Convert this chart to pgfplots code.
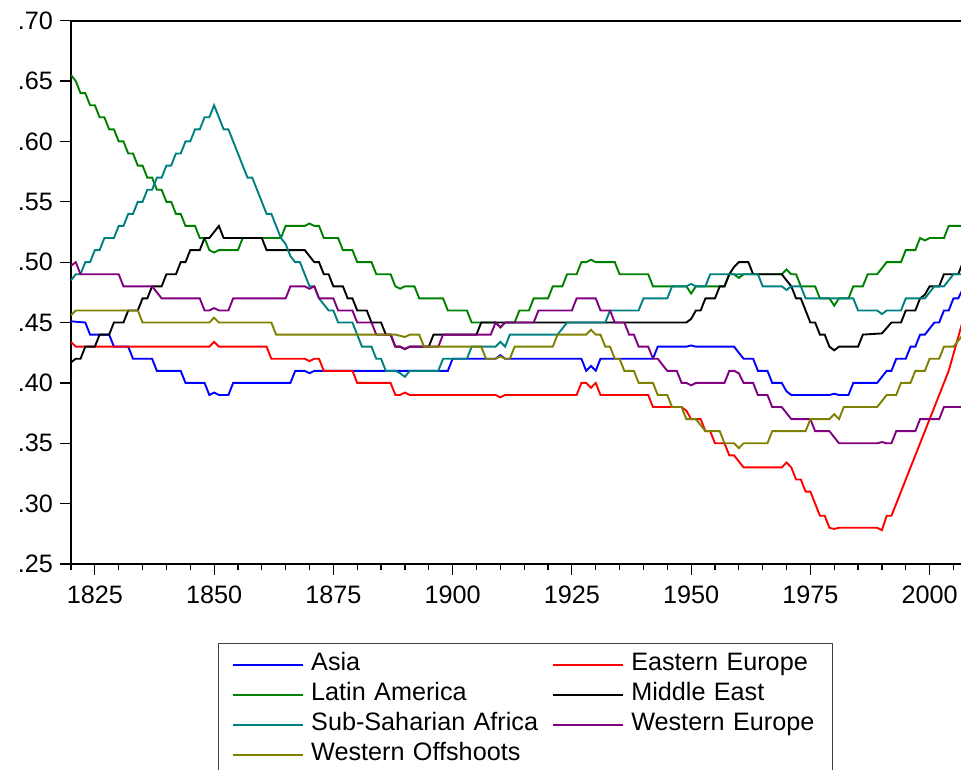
\documentclass[border=0pt]{standalone}
\usepackage{fontspec}
\setmainfont{Liberation Sans}
\usepackage{pgfplots}
\pgfplotsset{compat=1.18}
\definecolor{cAsia}{RGB}{0,0,255}
\definecolor{cEE}{RGB}{255,0,0}
\definecolor{cLA}{RGB}{0,128,0}
\definecolor{cME}{RGB}{0,0,0}
\definecolor{cSSA}{RGB}{0,128,128}
\definecolor{cWE}{RGB}{128,0,128}
\definecolor{cWO}{RGB}{128,128,0}
\begin{document}
\begin{tikzpicture}
\begin{axis}[
  scale only axis, width=446pt, height=271.65pt,
  xmin=1820, xmax=2007, ymin=0.25, ymax=0.70,
  axis line style={line width=1pt},
  tick align=outside, xtick pos=bottom, ytick pos=left,
  xtick={1825,1850,1875,1900,1925,1950,1975,2000},
  xticklabels={1825,1850,1875,1900,1925,1950,1975,2000},
  minor xtick={1820,1825,...,2005},
  ytick={0.25,0.3,0.35,0.4,0.45,0.5,0.55,0.6,0.65,0.7},
  yticklabels={.25,.30,.35,.40,.45,.50,.55,.60,.65,.70},
  major tick length=5.5pt, minor tick length=3pt,
  every tick/.style={black, line width=0.6pt},
  ticklabel style={font=\fontsize{12.6}{14}\selectfont},
  xticklabel style={yshift=-2pt},
  legend columns=2,
  legend cell align=left,
  legend image code/.code={\draw[#1] (0pt,0pt) -- (35pt,0pt);},
  legend style={draw=black!75, line width=0.7pt,
    at={(axis description cs:0.1648,-0.1454)}, anchor=north west,
    inner xsep=6.5pt, inner ysep=4.5pt,
    font=\fontsize{12.6}{14}\selectfont,
    row sep=3pt, column sep=3.8pt,
    nodes={inner sep=0pt, text height=9pt, text depth=3pt},
    /tikz/column 2/.style={text width=116.5pt},
    /tikz/column 4/.style={text width=94pt}},
  every axis plot/.append style={line width=0.95pt},
]
% Asia
\addplot[cAsia] coordinates {(1820,.451)(1823,.45)(1824,.44)(1828,.44)(1829,.43)(1832,.43)(1833,.42)(1837,.42)(1838,.41)(1843,.41)(1844,.40)(1848,.40)(1849,.39)(1850,.392)(1851,.39)(1853,.39)(1854,.40)(1866,.40)(1867,.41)(1869,.41)(1870,.408)(1871,.41)(1899,.41)(1900,.42)(1909,.42)(1910,.423)(1911,.42)(1927,.42)(1928,.41)(1929,.414)(1930,.41)(1931,.42)(1942,.42)(1943,.43)(1949,.43)(1950,.431)(1951,.43)(1959,.43)(1960,.425)(1961,.42)(1963,.42)(1964,.41)(1966,.41)(1967,.40)(1969,.40)(1970,.393)(1971,.39)(1979,.39)(1980,.391)(1981,.39)(1983,.39)(1984,.40)(1989,.40)(1991,.41)(1992,.41)(1993,.42)(1995,.42)(1996,.43)(1997,.43)(1998,.44)(1999,.44)(2001,.45)(2002,.45)(2003,.46)(2004,.46)(2005,.47)(2006,.47)(2007,.478)};
\addlegendentry{Asia}
% Eastern Europe
\addplot[cEE] coordinates {(1820,.434)(1821,.43)(1849,.43)(1850,.434)(1851,.43)(1861,.43)(1862,.42)(1869,.42)(1870,.418)(1871,.42)(1872,.42)(1873,.41)(1879,.41)(1880,.40)(1887,.40)(1888,.39)(1889,.39)(1890,.392)(1891,.39)(1909,.39)(1910,.388)(1911,.39)(1926,.39)(1927,.40)(1928,.40)(1929,.396)(1930,.40)(1931,.39)(1941,.39)(1942,.38)(1948,.38)(1949,.377)(1950,.37)(1952,.37)(1953,.36)(1954,.36)(1955,.35)(1957,.35)(1958,.34)(1959,.34)(1961,.33)(1969,.33)(1970,.334)(1971,.33)(1972,.32)(1973,.32)(1974,.31)(1975,.31)(1977,.29)(1978,.29)(1979,.28)(1980,.279)(1981,.28)(1989,.28)(1990,.278)(1991,.29)(1992,.29)(2004,.41)(2007,.452)};
\addlegendentry{Eastern Europe}
% Latin America
\addplot[cLA] coordinates {(1820,.655)(1821,.65)(1822,.64)(1823,.64)(1824,.63)(1825,.63)(1826,.62)(1827,.62)(1828,.61)(1829,.61)(1830,.60)(1831,.60)(1832,.59)(1833,.59)(1834,.58)(1835,.58)(1836,.57)(1837,.57)(1838,.56)(1839,.56)(1840,.55)(1841,.55)(1842,.54)(1843,.54)(1844,.53)(1846,.53)(1847,.52)(1848,.52)(1849,.51)(1850,.508)(1851,.51)(1855,.51)(1856,.52)(1864,.52)(1865,.53)(1869,.53)(1870,.532)(1871,.53)(1872,.53)(1873,.52)(1876,.52)(1877,.51)(1879,.51)(1880,.50)(1883,.50)(1884,.49)(1887,.49)(1888,.48)(1889,.478)(1890,.48)(1892,.48)(1893,.47)(1898,.47)(1899,.46)(1903,.46)(1904,.45)(1909,.45)(1910,.446)(1911,.45)(1913,.45)(1914,.46)(1916,.46)(1917,.47)(1920,.47)(1921,.48)(1923,.48)(1924,.49)(1926,.49)(1927,.50)(1928,.50)(1929,.502)(1930,.50)(1934,.50)(1935,.49)(1941,.49)(1942,.48)(1949,.48)(1950,.474)(1951,.48)(1957,.48)(1958,.49)(1959,.49)(1960,.487)(1961,.49)(1969,.49)(1970,.494)(1971,.49)(1972,.49)(1973,.48)(1976,.48)(1977,.47)(1979,.47)(1980,.464)(1981,.47)(1983,.47)(1984,.48)(1986,.48)(1987,.49)(1989,.49)(1991,.50)(1994,.50)(1995,.51)(1997,.51)(1998,.52)(1999,.518)(2000,.52)(2003,.52)(2004,.53)(2007,.53)};
\addlegendentry{Latin America}
% Middle East
\addplot[cME] coordinates {(1820,.417)(1821,.42)(1822,.42)(1823,.43)(1825,.43)(1826,.44)(1828,.44)(1829,.45)(1831,.45)(1832,.46)(1834,.46)(1835,.47)(1836,.47)(1837,.48)(1839,.48)(1840,.49)(1842,.49)(1843,.50)(1844,.50)(1845,.51)(1847,.51)(1848,.52)(1849,.52)(1850,.525)(1851,.53)(1852,.52)(1860,.52)(1861,.51)(1869,.51)(1870,.505)(1871,.50)(1872,.50)(1873,.49)(1874,.49)(1875,.48)(1877,.48)(1878,.47)(1879,.47)(1880,.46)(1882,.46)(1883,.45)(1885,.45)(1886,.44)(1887,.44)(1888,.43)(1889,.43)(1890,.428)(1891,.43)(1895,.43)(1896,.44)(1905,.44)(1906,.45)(1949,.45)(1950,.453)(1951,.46)(1952,.46)(1953,.47)(1955,.47)(1956,.48)(1957,.48)(1958,.49)(1959,.496)(1960,.50)(1962,.50)(1963,.49)(1969,.49)(1970,.485)(1971,.48)(1972,.47)(1973,.47)(1974,.46)(1975,.45)(1976,.45)(1977,.44)(1978,.44)(1979,.43)(1980,.427)(1981,.43)(1985,.43)(1986,.44)(1990,.441)(1992,.45)(1994,.45)(1995,.46)(1997,.46)(1998,.47)(1999,.473)(2000,.48)(2002,.48)(2003,.49)(2006,.49)(2007,.50)};
\addlegendentry{Middle East}
% Sub-Saharan Africa
\addplot[cSSA] coordinates {(1820,.485)(1821,.49)(1822,.49)(1823,.50)(1824,.50)(1825,.51)(1826,.51)(1827,.52)(1829,.52)(1830,.53)(1831,.53)(1832,.54)(1833,.54)(1834,.55)(1835,.55)(1836,.56)(1837,.56)(1838,.57)(1839,.57)(1840,.58)(1841,.58)(1842,.59)(1843,.59)(1844,.60)(1845,.60)(1846,.61)(1847,.61)(1848,.62)(1849,.62)(1850,.63)(1852,.61)(1853,.61)(1857,.57)(1858,.57)(1861,.54)(1862,.54)(1864,.52)(1865,.515)(1866,.505)(1867,.50)(1868,.50)(1869,.49)(1870,.48)(1871,.48)(1872,.47)(1874,.46)(1875,.46)(1876,.45)(1879,.45)(1880,.44)(1881,.43)(1883,.43)(1884,.42)(1885,.42)(1886,.41)(1888,.41)(1889,.408)(1890,.405)(1891,.41)(1897,.41)(1898,.42)(1903,.42)(1904,.43)(1909,.43)(1910,.434)(1911,.43)(1912,.44)(1922,.44)(1924,.45)(1932,.45)(1933,.46)(1939,.46)(1940,.47)(1945,.47)(1946,.48)(1949,.48)(1950,.482)(1951,.48)(1953,.48)(1954,.49)(1964,.49)(1965,.48)(1969,.48)(1970,.477)(1971,.48)(1973,.48)(1974,.47)(1984,.47)(1985,.46)(1989,.46)(1990,.457)(1991,.46)(1994,.46)(1995,.47)(1999,.47)(2001,.48)(2003,.48)(2005,.49)(2007,.49)};
\addlegendentry{Sub-Saharian Africa}
% Western Europe
\addplot[cWE] coordinates {(1820,.497)(1821,.50)(1822,.49)(1830,.49)(1831,.48)(1837,.48)(1839,.47)(1847,.47)(1848,.46)(1849,.46)(1850,.462)(1851,.46)(1853,.46)(1854,.47)(1865,.47)(1866,.48)(1869,.48)(1870,.478)(1871,.48)(1872,.47)(1875,.47)(1876,.46)(1879,.46)(1880,.45)(1883,.45)(1884,.44)(1887,.44)(1888,.43)(1889,.43)(1890,.428)(1891,.43)(1897,.43)(1898,.44)(1908,.44)(1909,.45)(1910,.446)(1911,.45)(1917,.45)(1918,.46)(1925,.46)(1926,.47)(1930,.47)(1931,.46)(1933,.46)(1934,.45)(1936,.45)(1937,.44)(1938,.44)(1939,.43)(1941,.43)(1942,.42)(1943,.42)(1945,.41)(1947,.41)(1948,.40)(1949,.40)(1950,.398)(1951,.40)(1957,.40)(1958,.41)(1959,.41)(1960,.408)(1961,.40)(1963,.40)(1964,.39)(1966,.39)(1967,.38)(1969,.38)(1971,.37)(1975,.37)(1976,.36)(1979,.36)(1981,.35)(1989,.35)(1990,.351)(1991,.35)(1992,.35)(1993,.36)(1997,.36)(1998,.37)(2002,.37)(2003,.38)(2007,.38)};
\addlegendentry{Western Europe}
% Western Offshoots
\addplot[cWO] coordinates {(1820,.456)(1821,.46)(1834,.46)(1835,.45)(1849,.45)(1850,.454)(1851,.45)(1862,.45)(1863,.44)(1888,.44)(1890,.438)(1891,.44)(1893,.44)(1894,.43)(1906,.43)(1907,.42)(1909,.42)(1910,.422)(1911,.42)(1912,.42)(1913,.43)(1921,.43)(1922,.44)(1928,.44)(1929,.444)(1930,.44)(1931,.44)(1932,.43)(1933,.43)(1934,.42)(1935,.42)(1936,.41)(1938,.41)(1939,.40)(1942,.40)(1943,.39)(1945,.39)(1946,.38)(1948,.38)(1949,.37)(1951,.37)(1953,.36)(1956,.36)(1957,.35)(1959,.35)(1960,.346)(1961,.35)(1966,.35)(1967,.36)(1969,.36)(1974,.36)(1975,.37)(1979,.37)(1980,.374)(1981,.37)(1982,.38)(1989,.38)(1991,.39)(1993,.39)(1994,.40)(1996,.40)(1997,.41)(1999,.41)(2000,.42)(2002,.42)(2003,.43)(2005,.43)(2007,.44)};
\addlegendentry{Western Offshoots}
\end{axis}
\pgfresetboundingbox
\path[use as bounding box] (-35.5pt,-102.5pt) rectangle (445pt,282pt);
\end{tikzpicture}
\end{document}
